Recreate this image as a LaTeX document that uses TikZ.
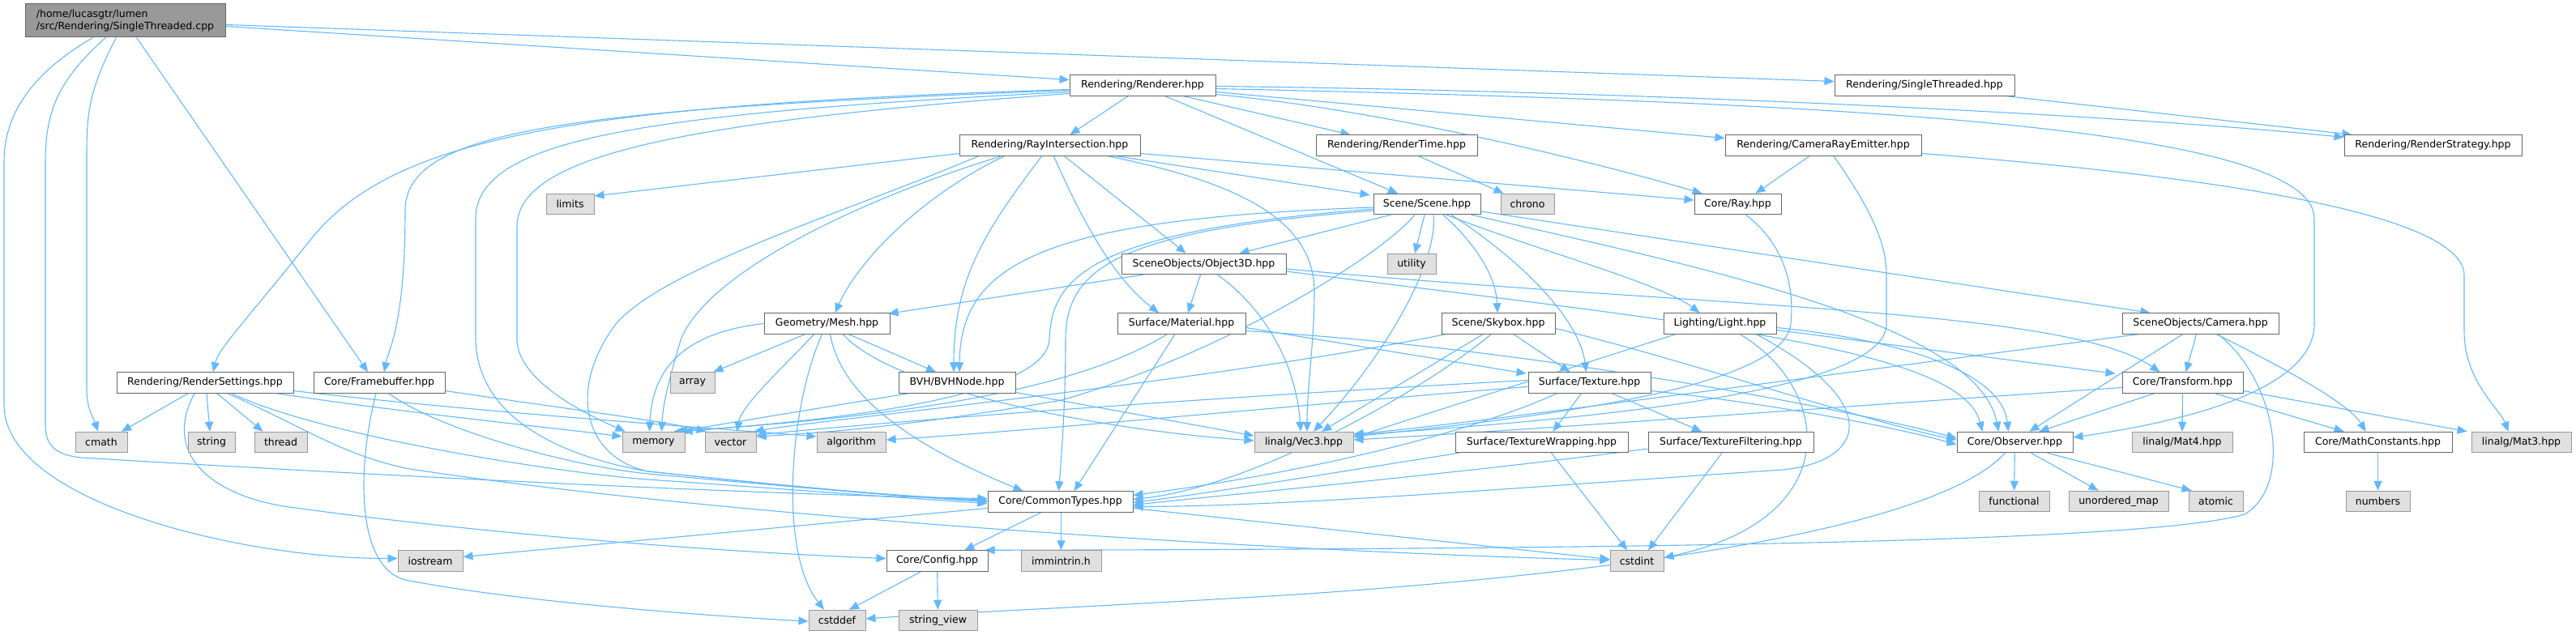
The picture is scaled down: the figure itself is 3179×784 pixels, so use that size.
\documentclass[tikz,border=0pt]{standalone}
\usepackage{fontspec}
\setmainfont{DejaVu Sans}
\usetikzlibrary{arrows.meta}
\definecolor{edgec}{HTML}{63B8FF}
\definecolor{bordc}{HTML}{666666}
\definecolor{extb}{HTML}{999999}
\definecolor{extf}{HTML}{E0E0E0}
\definecolor{rootf}{HTML}{999999}
\pgfdeclarelayer{background}
\pgfsetlayers{background,main}
\tikzset{
  nd/.style={draw=bordc, fill=white, line width=1pt, inner sep=0pt, minimum height=25.5pt, text=black, font=\fontsize{12.5}{15}\selectfont},
  ext/.style={nd, draw=extb, fill=extf},
  e/.style={draw=edgec, line width=1.1pt, -{Triangle[length=12pt,width=10pt]}},
}
\begin{document}
\begin{tikzpicture}[x=1pt,y=-1pt]
\useasboundingbox (0,0) rectangle (3179,784);
% ---------- nodes ----------
\node[nd, fill=rootf, minimum width=247pt, minimum height=41pt, align=left] (root) at (154.5,25.5) {/home/lucasgtr/lumen\\/src/Rendering/SingleThreaded.cpp};
\node[nd, minimum width=180pt] (renderer) at (1410,105.5) {Rendering/Renderer.hpp};
\node[nd, minimum width=222pt] (singlethreaded) at (2375,105.5) {Rendering/SingleThreaded.hpp};
\node[nd, minimum width=223pt] (rayint) at (1295.5,179.5) {Rendering/RayIntersection.hpp};
\node[nd, minimum width=199pt] (rendertime) at (1723.5,179.5) {Rendering/RenderTime.hpp};
\node[nd, minimum width=242pt] (camray) at (2250,179.5) {Rendering/CameraRayEmitter.hpp};
\node[nd, minimum width=219pt] (renderstrategy) at (3002.5,179.5) {Rendering/RenderStrategy.hpp};
\node[ext, minimum width=59pt] (limits) at (703.5,252) {limits};
\node[nd, minimum width=132pt] (scene) at (1761,252) {Scene/Scene.hpp};
\node[ext, minimum width=66pt] (chrono) at (1885,252) {chrono};
\node[nd, minimum width=107pt] (ray) at (2144.5,252) {Core/Ray.hpp};
\node[nd, minimum width=203pt] (object3d) at (1485.5,326) {SceneObjects/Object3D.hpp};
\node[ext, minimum width=60pt] (utility) at (1742,326) {utility};
\node[nd, minimum width=155pt] (mesh) at (1020.5,399.5) {Geometry/Mesh.hpp};
\node[nd, minimum width=158pt] (material) at (1458,399.5) {Surface/Material.hpp};
\node[nd, minimum width=140pt] (skybox) at (1849,399.5) {Scene/Skybox.hpp};
\node[nd, minimum width=139pt] (light) at (2122.5,399.5) {Lighting/Light.hpp};
\node[nd, minimum width=193pt] (camera) at (2715.5,399.5) {SceneObjects/Camera.hpp};
\node[nd, minimum width=218pt] (rsettings) at (253,472.5) {Rendering/RenderSettings.hpp};
\node[nd, minimum width=162pt] (framebuffer) at (468,472.5) {Core/Framebuffer.hpp};
\node[ext, minimum width=55pt] (array) at (854.5,472.5) {array};
\node[nd, minimum width=144pt] (bvh) at (1181,472.5) {BVH/BVHNode.hpp};
\node[nd, minimum width=151pt] (texture) at (1961.5,472.5) {Surface/Texture.hpp};
\node[nd, minimum width=149pt] (transform) at (2693.5,472.5) {Core/Transform.hpp};
\node[ext, minimum width=64pt] (cmath) at (125,546) {cmath};
\node[ext, minimum width=58pt] (string) at (261,546) {string};
\node[ext, minimum width=65pt] (thread) at (346.5,546) {thread};
\node[ext, minimum width=77pt] (memory) at (806.5,546) {memory};
\node[ext, minimum width=63pt] (vector) at (901.5,546) {vector};
\node[ext, minimum width=85pt] (algorithm) at (1050.5,546) {algorithm};
\node[ext, minimum width=122pt] (vec3) at (1609,546) {linalg/Vec3.hpp};
\node[nd, minimum width=213pt] (texwrap) at (1902.5,546) {Surface/TextureWrapping.hpp};
\node[nd, minimum width=204pt] (texfilt) at (2136,546) {Surface/TextureFiltering.hpp};
\node[nd, minimum width=143pt] (observer) at (2486.5,546) {Core/Observer.hpp};
\node[ext, minimum width=124pt] (mat4) at (2693,546) {linalg/Mat4.hpp};
\node[nd, minimum width=183pt] (mathconst) at (2934.5,546) {Core/MathConstants.hpp};
\node[ext, minimum width=123pt] (mat3) at (3111.5,546) {linalg/Mat3.hpp};
\node[nd, minimum width=179pt] (commontypes) at (1308.5,619.5) {Core/CommonTypes.hpp};
\node[ext, minimum width=87pt] (functional) at (2485.5,619) {functional};
\node[ext, minimum width=123pt] (umap) at (2614.5,619) {unordered\_map};
\node[ext, minimum width=67pt] (atomic) at (2734.5,619) {atomic};
\node[ext, minimum width=79pt] (numbers) at (2934.5,619) {numbers};
\node[ext, minimum width=80pt] (iostream) at (531,692.5) {iostream};
\node[nd, minimum width=125pt] (config) at (1156.5,692.5) {Core/Config.hpp};
\node[ext, minimum width=99pt] (immintrin) at (1309.5,692.5) {immintrin.h};
\node[ext, minimum width=66pt] (cstdint) at (2020,692.5) {cstdint};
\node[ext, minimum width=70pt] (cstddef) at (1033,766) {cstddef};
\node[ext, minimum width=97pt] (stringview) at (1157.5,766) {string\_view};
% ---------- edges ----------
\begin{pgfonlayer}{background}
% root
\draw[e] ([yshift=-7]root.east) -- ([yshift=7]renderer.west);
\draw[e] ([yshift=-5]root.east) -- ([yshift=5]singlethreaded.west);
\draw[e] ([xshift=-11]root.south) .. controls (110,110) and (107,140) .. (107,190) -- (107,480) .. controls (107,505) and (115,515) .. ([xshift=-4]cmath.north);
\draw[e] ([xshift=-24]root.south) .. controls (70,100) and (56,140) .. (56,200) -- (56,525) .. controls (56,555) and (75,562) .. (100,565) .. controls (600,595) and (1000,612) .. ([yshift=4]commontypes.west);
\draw[e] ([xshift=-40]root.south) .. controls (40,90) and (5,140) .. (5,200) -- (5,500) .. controls (5,620) and (300,690) .. ([yshift=3]iostream.west);
\draw[e] ([xshift=14]root.south) -- ([xshift=-14]framebuffer.north);
% singlethreaded
\draw[e] ([xshift=-10]singlethreaded.south east) -- ([xshift=10]renderstrategy.north west);
% renderer
\draw[e] ([xshift=-18]renderer.south) -- ([xshift=25]rayint.north);
\draw[e] ([xshift=51]renderer.south) -- ([xshift=-57]rendertime.north);
\draw[e] ([xshift=28]renderer.south) -- ([xshift=-36]scene.north);
\draw[e] ([yshift=-8]renderer.east) -- ([yshift=9]camray.west);
\draw[e] ([yshift=-11]renderer.east) .. controls (1700,135) and (1950,195) .. ([xshift=10]ray.north west);
\draw[e] ([yshift=-1]renderer.east) .. controls (2000,112) and (2600,140) .. ([yshift=10]renderstrategy.west);
\draw[e] ([yshift=-4]renderer.east) .. controls (2200,125) and (2856,150) .. (2856,270) -- (2856,400) .. controls (2856,480) and (2700,520) .. ([yshift=6]observer.east);
\draw[e] ([yshift=-5]renderer.west) .. controls (700,130) and (480,170) .. (380,300) .. controls (300,400) and (270,430) .. ([xshift=10]rsettings.north);
\draw[e] ([yshift=-6]renderer.west) .. controls (700,135) and (500,160) .. (500,260) .. controls (500,400) and (480,430) .. ([xshift=6]framebuffer.north);
\draw[e] ([yshift=-8]renderer.west) .. controls (800,140) and (587,170) .. (587,270) -- (587,420) .. controls (590,520) and (700,565) .. (800,582) .. controls (1000,603) and (1100,612) .. ([yshift=2]commontypes.west);
\draw[e] ([yshift=-10]renderer.west) .. controls (850,150) and (638,190) .. (638,280) -- (638,420) .. controls (640,470) and (720,510) .. ([xshift=4]memory.north west);
% rayint
\draw[e] ([yshift=-10]rayint.west) -- ([yshift=10]limits.east);
\draw[e] ([yshift=-10]rayint.east) -- ([yshift=5]ray.west);
\draw[e] ([xshift=82]rayint.south) -- ([xshift=-4,yshift=-2]scene.north west);
\draw[e] ([xshift=72]rayint.south) .. controls (1500,220) and (1622,260) .. (1622,360) .. controls (1622,420) and (1613,480) .. ([xshift=4]vec3.north);
\draw[e] ([xshift=18]rayint.south) -- ([xshift=-22]object3d.north);
\draw[e] ([xshift=5]rayint.south) .. controls (1330,260) and (1370,340) .. ([xshift=-28]material.north);
\draw[e] ([xshift=-10]rayint.south) .. controls (1220,280) and (1177,340) .. ([xshift=-4]bvh.north);
\draw[e] ([xshift=-56]rayint.south) .. controls (1140,240) and (1060,320) .. ([xshift=10]mesh.north);
\draw[e] ([xshift=-88]rayint.south) .. controls (1050,260) and (820,330) .. (760,400) .. controls (700,480) and (720,565) .. (800,582) .. controls (1000,603) and (1100,612) .. ([yshift=1]commontypes.west);
\draw[e] ([xshift=-60]rayint.south) .. controls (1050,250) and (870,340) .. (840,420) .. controls (825,470) and (818,500) .. ([xshift=10]memory.north);
% rendertime, camray, ray
\draw[e] ([xshift=27]rendertime.south) -- ([xshift=4]chrono.north west);
\draw[e] ([xshift=-17]camray.south) -- ([xshift=22]ray.north);
\draw[e] ([xshift=13]camray.south) .. controls (2310,260) and (2328,300) .. (2328,340) -- (2328,400) .. controls (2328,480) and (2000,515) .. ([yshift=9]vec3.east);
\draw[e] ([yshift=-10]camray.east) .. controls (2700,215) and (3041,260) .. (3041,340) -- (3041,410) .. controls (3041,470) and (3085,505) .. ([xshift=-16]mat3.north);
\draw[e] ([xshift=10]ray.south) .. controls (2200,300) and (2215,350) .. (2210,400) .. controls (2200,480) and (1900,515) .. ([yshift=7]vec3.east);
% scene
\draw[e] ([xshift=-45]scene.south) -- ([xshift=44]object3d.north);
\draw[e] ([xshift=-3]scene.south) -- ([xshift=4]utility.north);
\draw[e] ([xshift=20]scene.south) .. controls (1820,300) and (1846,340) .. ([xshift=-1]skybox.north);
\draw[e] ([xshift=24]scene.south) .. controls (1900,310) and (2050,350) .. ([xshift=-25]light.north);
\draw[e] ([xshift=30]scene.south) .. controls (1890,330) and (1950,400) .. ([xshift=-4]texture.north);
\draw[e] ([yshift=-9]scene.east) -- ([xshift=-62]camera.north);
\draw[e] ([xshift=55]scene.south) .. controls (2100,330) and (2440,400) .. ([xshift=-20]observer.north);
\draw[e] ([xshift=8]scene.south) .. controls (1775,330) and (1700,450) .. ([xshift=12]vec3.north);
\draw[e] ([xshift=-15]scene.south) .. controls (1700,320) and (1500,440) .. (1310,494) .. controls (1100,530) and (1000,535) .. ([yshift=7]vector.east);
\draw[e] ([yshift=-4]scene.west) .. controls (1300,270) and (1185,320) .. ([xshift=3]bvh.north);
\draw[e] ([yshift=-6]scene.west) .. controls (1350,285) and (1297,340) .. (1295,420) .. controls (1290,480) and (1100,515) .. ([xshift=25]memory.north);
\draw[e] ([yshift=-8]scene.west) .. controls (1380,285) and (1315,330) .. (1315,420) .. controls (1315,500) and (1310,560) .. ([xshift=-2]commontypes.north);
% object3d
\draw[e] ([xshift=-75]object3d.south) -- ([xshift=-2,yshift=-1]mesh.north east);
\draw[e] ([xshift=-4]object3d.south) -- ([xshift=8]material.north);
\draw[e] ([xshift=17]object3d.south) .. controls (1560,380) and (1600,450) .. ([xshift=-4]vec3.north);
\draw[e] ([yshift=-6]object3d.east) .. controls (2100,380) and (2550,380) .. ([xshift=-28]transform.north);
\draw[e] ([yshift=-9]object3d.east) .. controls (2100,400) and (2420,430) .. ([xshift=-40]observer.north);
% mesh
\draw[e] ([xshift=-27]mesh.south) -- ([xshift=-2]array.north east);
\draw[e] ([xshift=-16]mesh.south) .. controls (970,450) and (915,500) .. ([xshift=8]vector.north);
\draw[e] (mesh.west) .. controls (850,410) and (805,450) .. ([xshift=-5]memory.north);
\draw[e] ([xshift=-6]mesh.south) .. controls (975,500) and (960,680) .. ([xshift=-16]cstddef.north);
\draw[e] ([xshift=4]mesh.south) .. controls (1040,500) and (1150,560) .. ([xshift=-46]commontypes.north);
\draw[e] ([xshift=20]mesh.south) .. controls (1100,480) and (1350,530) .. ([yshift=2]vec3.west);
\draw[e] ([xshift=27]mesh.south) -- ([xshift=-26]bvh.north);
% bvh
\draw[e] ([xshift=-60]bvh.south) -- ([xshift=30]memory.north);
\draw[e] ([yshift=-12]bvh.east) -- ([yshift=8]vec3.west);
% material
\draw[e] ([yshift=-5]material.east) -- ([xshift=-2,yshift=-2]texture.north west);
\draw[e] ([yshift=-9]material.east) .. controls (1900,430) and (2300,510) .. ([yshift=5]observer.west);
\draw[e] ([xshift=-8]material.south) -- ([xshift=17]commontypes.north);
\draw[e] ([xshift=-18]material.south) .. controls (1300,500) and (1000,520) .. ([xshift=-3]memory.north east);
% skybox
\draw[e] ([xshift=19]skybox.south) -- ([xshift=-24]texture.north);
\draw[e] ([xshift=-19]skybox.south) -- ([xshift=22]vec3.north);
\draw[e] ([xshift=-9]skybox.south) .. controls (1760,480) and (1550,600) .. ([yshift=3]commontypes.east);
\draw[e] ([xshift=5]skybox.south west) .. controls (1500,470) and (1000,520) .. ([xshift=-3]vector.north east);
\draw[e] ([yshift=-6]skybox.east) .. controls (2100,450) and (2300,520) .. ([yshift=3]observer.west);
% light
\draw[e] ([xshift=-55]light.south) -- ([yshift=6]vec3.east);
\draw[e] ([xshift=25]light.south) .. controls (2260,480) and (2280,640) .. ([yshift=4]cstdint.east);
\draw[e] ([xshift=45]light.south) .. controls (2330,500) and (2300,570) .. (2200,580) .. controls (1900,600) and (1600,625) .. ([yshift=-6]commontypes.east);
\draw[e] ([yshift=-5]light.east) .. controls (2350,420) and (2470,460) .. ([xshift=-8]observer.north);
\draw[e] ([yshift=-8]light.east) -- ([xshift=-8,yshift=-2]transform.north west);
% texture
\draw[e] ([xshift=-10]texture.south) -- ([xshift=14]texwrap.north);
\draw[e] ([xshift=28]texture.south) -- ([xshift=-36]texfilt.north);
\draw[e] ([xshift=-40]texture.south) .. controls (1800,540) and (1600,585) .. ([yshift=8]commontypes.east);
\draw[e] ([yshift=-5]texture.west) .. controls (1600,500) and (1300,530) .. ([yshift=3]algorithm.east);
\draw[e] ([yshift=3]texture.west) .. controls (1500,490) and (1100,520) .. ([yshift=9]vector.east);
\draw[e] ([yshift=-10]texture.east) .. controls (2200,500) and (2350,530) .. ([yshift=-3]observer.west);
% texwrap, texfilt
\draw[e] ([xshift=5]texwrap.south west) .. controls (1700,575) and (1500,608) .. ([yshift=-1]commontypes.east);
\draw[e] ([xshift=12]texwrap.south) -- ([xshift=-12]cstdint.north);
\draw[e] ([yshift=-8]texfilt.west) .. controls (1800,585) and (1500,612) .. ([yshift=-4]commontypes.east);
\draw[e] ([xshift=-11]texfilt.south) -- ([xshift=14]cstdint.north);
% camera
\draw[e] ([xshift=-77]camera.south) .. controls (2200,470) and (1800,525) .. ([yshift=10]vec3.east);
\draw[e] ([xshift=-22]camera.south) -- ([xshift=18]observer.north);
\draw[e] ([xshift=-5]camera.south) -- ([xshift=4]transform.north);
\draw[e] ([xshift=20]camera.south) .. controls (2830,460) and (2900,500) .. ([xshift=-15]mathconst.north);
\draw[e] ([xshift=22]camera.south) .. controls (2810,470) and (2830,600) .. (2770,635) .. controls (2650,670) and (2000,678) .. ([xshift=-4]config.north east);
% transform
\draw[e] ([xshift=-35]transform.south) -- ([xshift=30]observer.north);
\draw[e] (transform) -- (mat4);
\draw[e] ([xshift=40]transform.south) -- ([xshift=-42]mathconst.north);
\draw[e] ([yshift=-10]transform.east) -- ([xshift=-5]mat3.north west);
\draw[e] ([yshift=-6]transform.west) .. controls (2300,500) and (1900,530) .. ([yshift=3]vec3.east);
% observer
\draw[e] (observer) -- (functional);
\draw[e] ([xshift=20]observer.south) -- ([xshift=-25]umap.north);
\draw[e] ([xshift=40]observer.south) -- ([xshift=-30]atomic.north);
\draw[e] ([xshift=-12]observer.south) .. controls (2400,640) and (2100,700) .. (1600,734) .. controls (1300,752) and (1150,758) .. ([yshift=2]cstddef.east);
% mathconst
\draw[e] (mathconst) -- (numbers);
% framebuffer
\draw[e] ([xshift=-4]framebuffer.south) .. controls (440,580) and (440,700) .. (500,716) .. controls (650,745) and (900,762) .. ([yshift=-1]cstddef.west);
\draw[e] ([xshift=12]framebuffer.south) .. controls (540,530) and (700,575) .. (800,585) .. controls (1000,603) and (1100,612) .. (commontypes.west);
\draw[e] ([yshift=-10]framebuffer.east) .. controls (700,505) and (820,520) .. ([xshift=2]vector.north west);
% rsettings
\draw[e] ([xshift=-21]rsettings.south) -- ([xshift=25]cmath.north);
\draw[e] ([xshift=2]rsettings.south) -- ([xshift=-2]string.north);
\draw[e] ([xshift=15]rsettings.south) -- ([xshift=-22]thread.north);
\draw[e] ([xshift=89]rsettings.south) .. controls (500,510) and (700,530) .. ([yshift=7]memory.west);
\draw[e] ([yshift=-10]rsettings.east) .. controls (600,510) and (900,530) .. ([yshift=7]algorithm.west);
\draw[e] ([xshift=33]rsettings.south) .. controls (400,540) and (700,585) .. (800,592) .. controls (1000,606) and (1100,614) .. ([yshift=-2]commontypes.west);
\draw[e] ([xshift=28]rsettings.south) .. controls (380,530) and (420,560) .. (500,578) .. controls (900,640) and (1600,682) .. ([yshift=1]cstdint.west);
\draw[e] ([xshift=-13]rsettings.south) .. controls (200,560) and (260,610) .. (350,625) .. controls (600,660) and (900,682) .. ([yshift=3]config.west);
% commontypes
\draw[e] ([xshift=-24]commontypes.south) -- ([xshift=34]config.north);
\draw[e] ([xshift=1]commontypes.south) -- (immintrin.north);
\draw[e] ([yshift=-8]commontypes.west) -- ([yshift=5]iostream.east);
\draw[e] ([yshift=-8]commontypes.east) -- ([yshift=2]cstdint.west);
% config
\draw[e] ([xshift=-20]config.south) -- ([xshift=15]cstddef.north);
\draw[e] (config) -- (stringview);
\end{pgfonlayer}
\end{tikzpicture}
\end{document}
